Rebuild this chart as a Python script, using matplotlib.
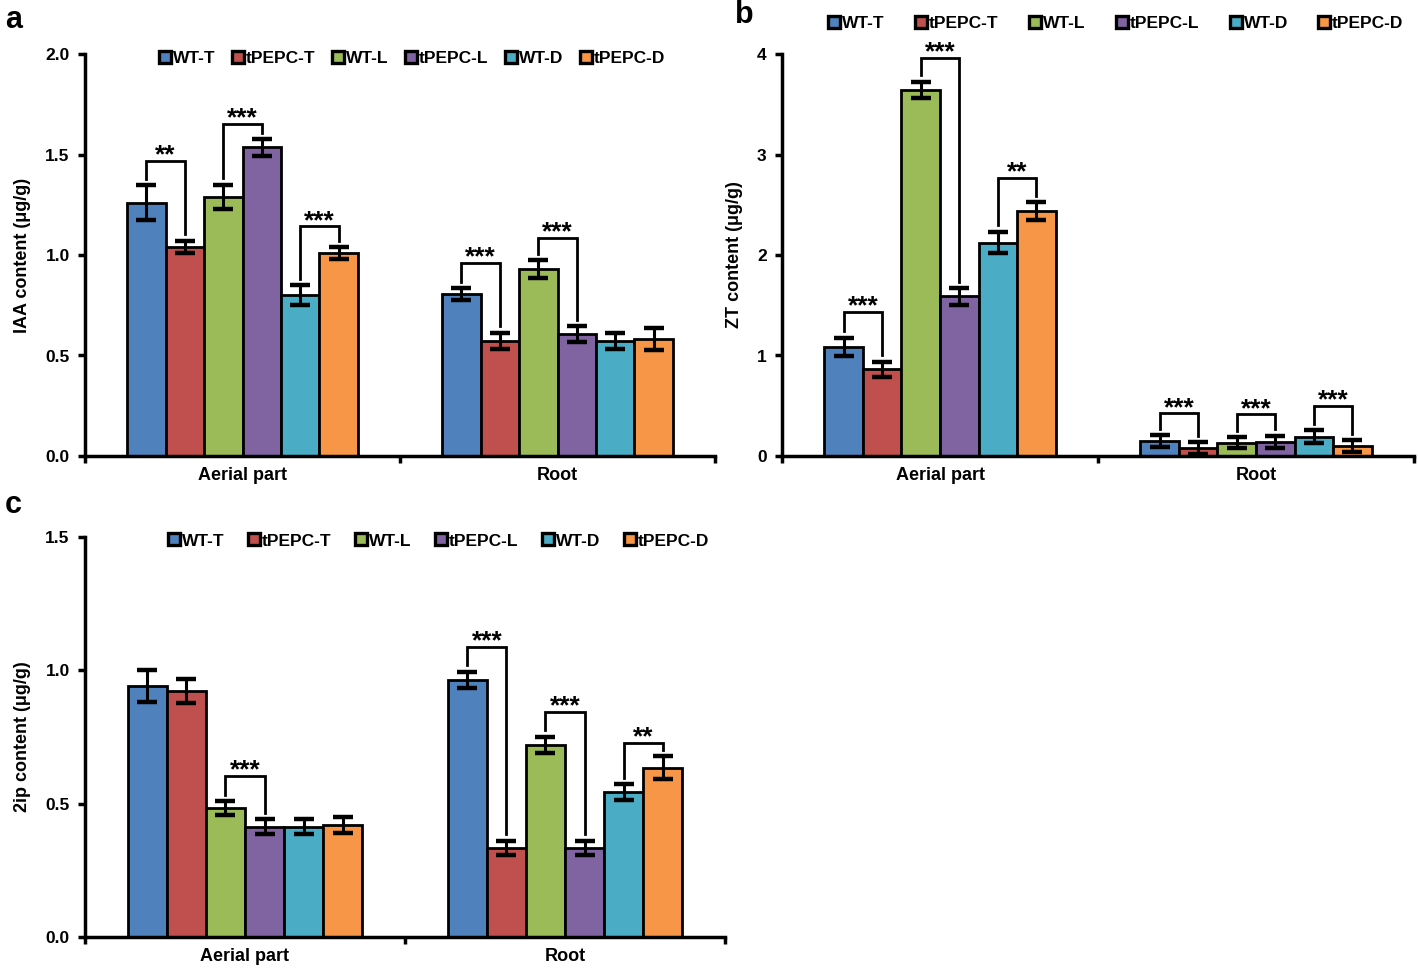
import numpy as np
import matplotlib
matplotlib.use('Agg')
import matplotlib.pyplot as plt
from matplotlib.lines import Line2D

plt.rcParams['font.family'] = ['Liberation Sans', 'DejaVu Sans']
plt.rcParams['font.weight'] = 'bold'

# Excel-like palette
colors = ['#4F81BD', '#C0504D', '#9BBB59', '#8064A2', '#4BACC6', '#F79646']
series = ['WT-T', 'tPEPC-T', 'WT-L', 'tPEPC-L', 'WT-D', 'tPEPC-D']
groups = ['Aerial part', 'Root']

# IAA (panel a): rows = groups, cols = series
iaa_mean = [[1.26, 1.04, 1.29, 1.535, 0.80, 1.01],
            [0.805, 0.573, 0.929, 0.606, 0.57, 0.582]]
iaa_err = [[0.087, 0.03, 0.06, 0.04, 0.05, 0.03],
           [0.03, 0.04, 0.045, 0.04, 0.04, 0.055]]
# (group, bar_i, bar_j, label, bracket level)
iaa_sig = [(0, 0, 1, '**', 1.466), (0, 2, 3, '***', 1.651), (0, 4, 5, '***', 1.142),
           (1, 0, 1, '***', 0.959), (1, 2, 3, '***', 1.087)]

# ZT (panel b)
zt_mean = [[1.086, 0.864, 3.642, 1.589, 2.123, 2.437],
           [0.149, 0.076, 0.132, 0.142, 0.192, 0.099]]
zt_err = [[0.09, 0.075, 0.083, 0.083, 0.108, 0.09],
          [0.055, 0.06, 0.055, 0.058, 0.063, 0.058]]
zt_sig = [(0, 0, 1, '***', 1.434), (0, 2, 3, '***', 3.96), (0, 4, 5, '**', 2.765),
          (1, 0, 1, '***', 0.424), (1, 2, 3, '***', 0.414), (1, 4, 5, '***', 0.497)]

# 2ip (panel c)
ip_mean = [[0.94, 0.922, 0.484, 0.413, 0.413, 0.421],
           [0.965, 0.334, 0.721, 0.335, 0.544, 0.635]]
ip_err = [[0.06, 0.044, 0.025, 0.028, 0.028, 0.03],
          [0.03, 0.027, 0.03, 0.026, 0.03, 0.042]]
ip_sig = [(0, 2, 3, '***', 0.6025),
          (1, 0, 1, '***', 1.0875), (1, 2, 3, '***', 0.844), (1, 4, 5, '**', 0.729)]

W, H = 1418, 971
fig = plt.figure(figsize=(W / 100, H / 100), dpi=100)


def px_axes(left, right, bottom, top):
    return fig.add_axes([left / W, 1 - bottom / H, (right - left) / W, (bottom - top) / H])


bw = 0.122
lw = 2.0


def panel(ax, mean, err, sig, ylim, yticks, fmt, ylabel, leg_xy, colsp):
    mean = np.array(mean)
    err = np.array(err)
    x0 = np.arange(len(groups))
    offs = (np.arange(len(series)) - (len(series) - 1) / 2) * bw
    for k in range(len(series)):
        ax.bar(x0 + offs[k], mean[:, k], width=bw, color=colors[k], edgecolor='black',
               linewidth=lw, zorder=2)
        ax.errorbar(x0 + offs[k], mean[:, k], yerr=err[:, k], fmt='none', ecolor='black',
                    elinewidth=2.2, capsize=7.5, capthick=3.2, zorder=3)
    gap = ylim * 0.016
    for g, i, j, lab, yl in sig:
        xi, xj = x0[g] + offs[i], x0[g] + offs[j]
        yi = mean[g, i] + err[g, i] + gap
        yj = mean[g, j] + err[g, j] + gap
        ax.plot([xi, xi, xj, xj], [yi, yl, yl, yj], color='black', lw=2.0,
                solid_joinstyle='miter', zorder=4, clip_on=False)
        ax.text((xi + xj) / 2, yl - ylim * 0.016, lab, ha='center', va='bottom',
                fontsize=19, fontweight='bold', zorder=5)
    ax.set_xlim(-0.5, 1.5)
    ax.set_ylim(0, ylim)
    ax.set_yticks(yticks)
    ax.set_yticklabels([fmt.format(t) for t in yticks])
    ax.set_xticks([-0.5, 0.5, 1.5])
    ax.set_xticklabels([])
    ax.set_xticks(x0, minor=True)
    ax.set_xticklabels(groups, minor=True, fontsize=13, fontweight='bold')
    ax.tick_params(axis='x', which='minor', length=0, pad=8)
    ax.tick_params(axis='x', which='major', length=5, width=2.5, direction='out')
    ax.tick_params(axis='y', length=5, width=2.5, direction='out', labelsize=12.5, pad=6)
    for s in ['top', 'right']:
        ax.spines[s].set_visible(False)
    for s in ['left', 'bottom']:
        ax.spines[s].set_linewidth(2.5)
    ax.set_ylabel(ylabel, fontsize=13, fontweight='bold', labelpad=10)
    handles = [Line2D([], [], marker='s', ls='none', markersize=9, markerfacecolor=c,
                      markeredgecolor='black', markeredgewidth=2.4) for c in colors]
    ax.legend(handles, series, loc='center', bbox_to_anchor=leg_xy, ncol=6, frameon=False,
              handlelength=0.6, handletextpad=0.15, columnspacing=colsp,
              prop={'size': 12.5, 'weight': 'bold'}, borderaxespad=0)


axa = px_axes(85, 715, 456, 54)
panel(axa, iaa_mean, iaa_err, iaa_sig, 2.0, [0, 0.5, 1.0, 1.5, 2.0], '{:.1f}',
      'IAA content (μg/g)', (0.52, 0.988), 1.0)

axb = px_axes(782, 1414, 456, 54)
panel(axb, zt_mean, zt_err, zt_sig, 4.0, [0, 1, 2, 3, 4], '{:.0f}',
      'ZT content (μg/g)', (0.529, 1.075), 1.8)

axc = px_axes(85, 725, 937, 537)
panel(axc, ip_mean, ip_err, ip_sig, 1.5, [0, 0.5, 1.0, 1.5], '{:.1f}',
      '2ip content (μg/g)', (0.553, 0.99), 1.4)

fig.text(5 / W, 1 - 20 / H, 'a', fontsize=22, fontweight='bold', va='center')
fig.text(735 / W, 1 - 15 / H, 'b', fontsize=22, fontweight='bold', va='center')
fig.text(5 / W, 1 - 505 / H, 'c', fontsize=22, fontweight='bold', va='center')

fig.savefig('out.png', dpi=100)
